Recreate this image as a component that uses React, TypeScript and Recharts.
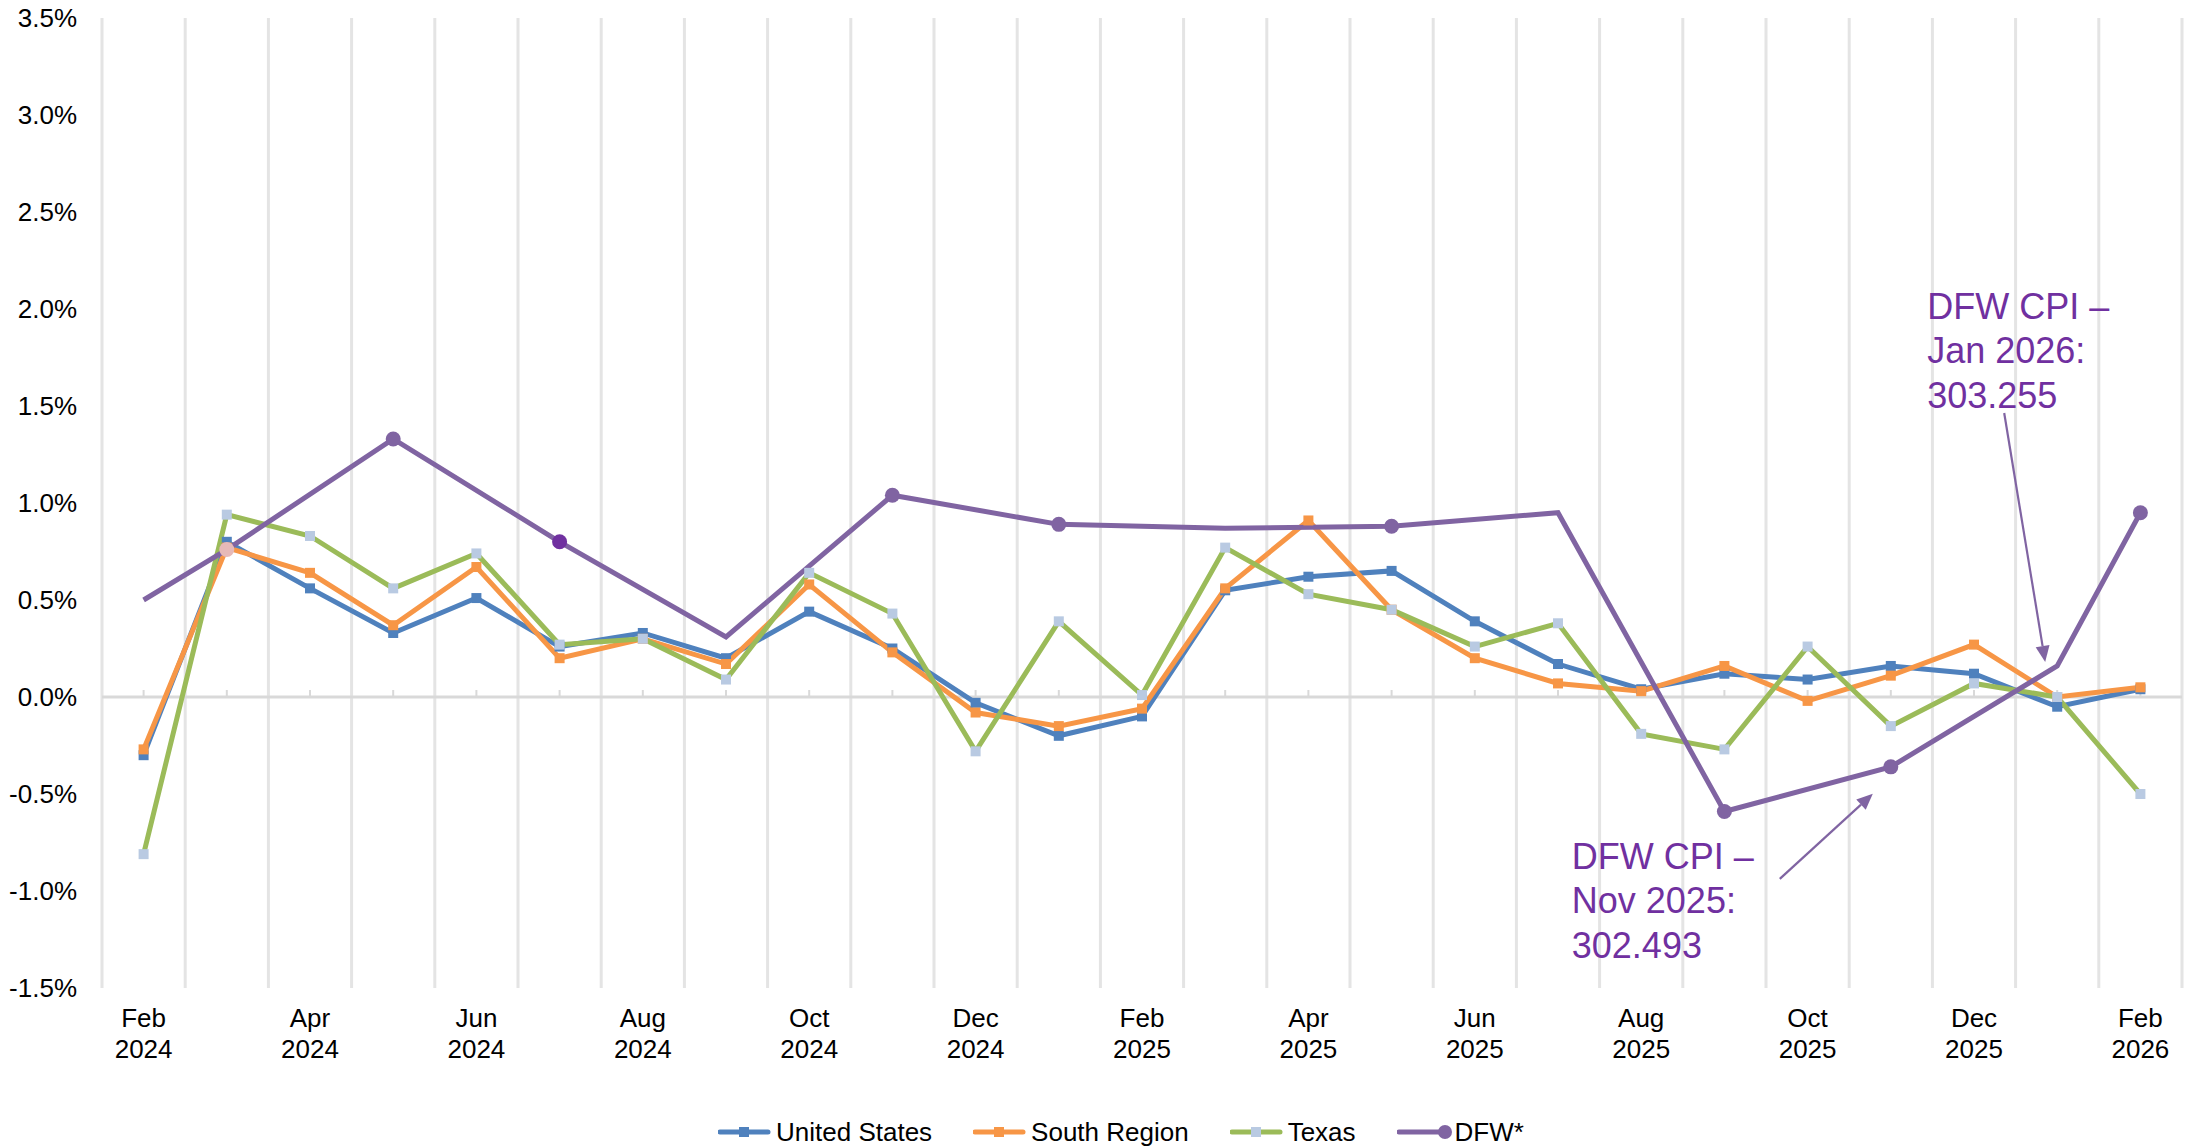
import React from 'react';
import {
  LineChart,
  Line,
  XAxis,
  YAxis,
  CartesianGrid,
  ReferenceLine,
  ReferenceDot,
} from 'recharts';

// Monthly % change, Feb 2024 - Feb 2026
const months = [
  'Feb 2024', 'Mar 2024', 'Apr 2024', 'May 2024', 'Jun 2024', 'Jul 2024', 'Aug 2024',
  'Sep 2024', 'Oct 2024', 'Nov 2024', 'Dec 2024', 'Jan 2025', 'Feb 2025', 'Mar 2025',
  'Apr 2025', 'May 2025', 'Jun 2025', 'Jul 2025', 'Aug 2025', 'Sep 2025', 'Oct 2025',
  'Nov 2025', 'Dec 2025', 'Jan 2026', 'Feb 2026',
];

const unitedStates = [
  -0.30, 0.80, 0.56, 0.33, 0.51, 0.26, 0.33, 0.20, 0.44, 0.25, -0.03, -0.20, -0.10,
  0.55, 0.62, 0.65, 0.39, 0.17, 0.04, 0.12, 0.09, 0.16, 0.12, -0.05, 0.04,
];

const southRegion = [
  -0.27, 0.77, 0.64, 0.37, 0.67, 0.20, 0.30, 0.17, 0.58, 0.23, -0.08, -0.15, -0.06,
  0.56, 0.91, 0.45, 0.20, 0.07, 0.03, 0.16, -0.02, 0.11, 0.27, 0.00, 0.05,
];

const texas = [
  -0.81, 0.94, 0.83, 0.56, 0.74, 0.27, 0.30, 0.09, 0.64, 0.43, -0.28, 0.39, 0.01,
  0.77, 0.53, 0.45, 0.26, 0.38, -0.19, -0.27, 0.26, -0.15, 0.07, 0.00, -0.50,
];

// DFW is published bimonthly, so the gaps are bridged
const dfw = [
  0.50, 0.76, null, 1.33, null, 0.80, null, 0.31, null, 1.04, null, 0.89, null,
  0.87, null, 0.88, null, 0.95, null, -0.59, null, -0.36, null, 0.16, 0.95,
];

// DFW points that carry a marker in the original
const dfwMarkedMonths = [
  'Mar 2024', 'May 2024', 'Jul 2024', 'Nov 2024', 'Jan 2025', 'May 2025',
  'Sep 2025', 'Nov 2025', 'Feb 2026',
];

const yTicks = [-1.5, -1.0, -0.5, 0, 0.5, 1.0, 1.5, 2.0, 2.5, 3.0, 3.5];

const calloutJan = { month: 'Jan 2026', lines: ['DFW CPI –', 'Jan 2026:', '303.255'] };
const calloutNov = { month: 'Nov 2025', lines: ['DFW CPI –', 'Nov 2025:', '302.493'] };

const COLORS = {
  us: '#4f81bd',
  south: '#f79646',
  texas: '#9bbb59',
  texasMarker: '#b9cae2',
  dfw: '#8064a2',
  note: '#7030a0',
  grid: '#e4e4e4',
  zero: '#d9d9d9',
};

const FONT = '"Liberation Sans", Arial, sans-serif';

const data = months.map((month, i) => ({
  month,
  us: unitedStates[i],
  south: southRegion[i],
  texas: texas[i],
  dfw: dfw[i],
}));

const squareDot = (fill: string) => (props: any) => {
  const { cx, cy, index } = props;
  if (cx == null || cy == null) return <g key={`s-${index}`} />;
  return <rect key={`s-${index}`} x={cx - 5} y={cy - 5} width={10} height={10} fill={fill} />;
};

const dfwDot = (props: any) => {
  const { cx, cy, index, payload } = props;
  if (cy == null || !dfwMarkedMonths.includes(payload.month)) return <g key={`d-${index}`} />;
  let fill = COLORS.dfw;
  if (payload.month === 'Mar 2024') fill = '#e6b9b8';
  if (payload.month === 'Jul 2024') fill = '#7030a0';
  return <circle key={`d-${index}`} cx={cx} cy={cy} r={7.5} fill={fill} />;
};

const MonthTick = ({ x, y, payload }: any) => {
  const [m, yr] = String(payload.value).split(' ');
  return (
    <g>
      <text x={x} y={y + 39} textAnchor="middle" fontSize={26} fill="#000">{m}</text>
      <text x={x} y={y + 70} textAnchor="middle" fontSize={26} fill="#000">{yr}</text>
    </g>
  );
};

// zero line with small category ticks, like the Excel horizontal axis
const ZeroAxis = (props: any) => {
  const { x1, y1, x2 } = props;
  if (x1 == null || y1 == null) return <g />;
  const step = (x2 - x1) / months.length;
  return (
    <g>
      <line x1={x1} y1={y1} x2={x2} y2={y1} stroke={COLORS.zero} strokeWidth={3} />
      {months.map((m, i) => (
        <line key={m} x1={x1 + (i + 0.5) * step} x2={x1 + (i + 0.5) * step} y1={y1} y2={y1 - 7} stroke={COLORS.zero} strokeWidth={2} />
      ))}
    </g>
  );
};

function Arrow({ x1, y1, x2, y2 }: { x1: number; y1: number; x2: number; y2: number }) {
  const len = Math.hypot(x2 - x1, y2 - y1);
  const ux = (x2 - x1) / len;
  const uy = (y2 - y1) / len;
  const hl = 16;
  const hw = 7;
  const bx = x2 - ux * hl;
  const by = y2 - uy * hl;
  const pts = `${x2},${y2} ${bx - uy * hw},${by + ux * hw} ${bx + uy * hw},${by - ux * hw}`;
  return (
    <g>
      <line x1={x1} y1={y1} x2={bx} y2={by} stroke={COLORS.dfw} strokeWidth={2.2} />
      <polygon points={pts} fill={COLORS.dfw} />
    </g>
  );
}

const calloutText = (lines: string[], x: number, y: number) =>
  lines.map((l, i) => (
    <text key={i} x={x} y={y + i * 44.5} fontSize={36} fill={COLORS.note}>{l}</text>
  ));

const JanCallout = ({ cx, cy }: any) => (
  <g>
    <Arrow x1={cx - 53} y1={cy - 253} x2={cx - 12} y2={cy - 4} />
    {calloutText(calloutJan.lines, cx - 130, cy - 347)}
  </g>
);

const NovCallout = ({ cx, cy }: any) => (
  <g>
    <Arrow x1={cx - 111} y1={cy + 112} x2={cx - 18} y2={cy + 27} />
    {calloutText(calloutNov.lines, cx - 319, cy + 102)}
  </g>
);

const legendItems = [
  { name: 'United States', color: COLORS.us, marker: COLORS.us, circle: false },
  { name: 'South Region', color: COLORS.south, marker: COLORS.south, circle: false },
  { name: 'Texas', color: COLORS.texas, marker: COLORS.texasMarker, circle: false },
  { name: 'DFW*', color: COLORS.dfw, marker: COLORS.dfw, circle: true },
];

function ChartLegend() {
  return (
    <div
      style={{
        position: 'absolute',
        top: 1117,
        left: 718,
        display: 'flex',
        alignItems: 'center',
        gap: 41,
        fontSize: 26,
        color: '#000',
      }}
    >
      {legendItems.map((it) => (
        <div key={it.name} style={{ display: 'flex', alignItems: 'center' }}>
          <svg width={56} height={20}>
            <line x1={2} y1={10} x2={50} y2={10} stroke={it.color} strokeWidth={5} strokeLinecap="round" />
            {it.circle ? (
              <circle cx={48} cy={10} r={7} fill={it.marker} />
            ) : (
              <rect x={21} y={5} width={10} height={10} fill={it.marker} />
            )}
          </svg>
          <span style={{ marginLeft: 2, lineHeight: '30px' }}>{it.name}</span>
        </div>
      ))}
    </div>
  );
}

export default function App() {
  const gridX = ({ offset }: any) =>
    Array.from({ length: months.length + 1 }, (_, i) => offset.left + (i * offset.width) / months.length);

  const janY = dfw[months.indexOf(calloutJan.month)] as number;
  const novY = dfw[months.indexOf(calloutNov.month)] as number;

  return (
    <div style={{ position: 'relative', width: 2196, height: 1147, background: '#fff', fontFamily: FONT }}>
      <style>{'body{margin:0}'}</style>
      <LineChart width={2196} height={1100} data={data} margin={{ top: 18, right: 14, bottom: 40, left: 0 }}>
        <CartesianGrid
          horizontal={false}
          stroke={COLORS.grid}
          strokeWidth={3}
          verticalCoordinatesGenerator={gridX}
        />
        <XAxis
          dataKey="month"
          scale="band"
          interval={1}
          height={72}
          axisLine={false}
          tickLine={false}
          tickSize={0}
          tickMargin={0}
          tick={<MonthTick />}
        />
        <YAxis
          domain={[-1.5, 3.5]}
          ticks={yTicks}
          width={102}
          axisLine={false}
          tickLine={false}
          tickSize={0}
          tickMargin={25}
          tickFormatter={(v: number) => `${v.toFixed(1)}%`}
          tick={{ fontSize: 26, fill: '#000' }}
        />
        <ReferenceLine y={0} shape={(p: any) => <ZeroAxis {...p} />} />
        <Line
          dataKey="us"
          name="United States"
          stroke={COLORS.us}
          strokeWidth={5}
          dot={squareDot(COLORS.us)}
          activeDot={false}
          isAnimationActive={false}
        />
        <Line
          dataKey="south"
          name="South Region"
          stroke={COLORS.south}
          strokeWidth={5}
          dot={squareDot(COLORS.south)}
          activeDot={false}
          isAnimationActive={false}
        />
        <Line
          dataKey="texas"
          name="Texas"
          stroke={COLORS.texas}
          strokeWidth={5}
          dot={squareDot(COLORS.texasMarker)}
          activeDot={false}
          isAnimationActive={false}
        />
        <Line
          dataKey="dfw"
          name="DFW*"
          stroke={COLORS.dfw}
          strokeWidth={5}
          connectNulls
          dot={dfwDot}
          activeDot={false}
          isAnimationActive={false}
        />
        <ReferenceDot x={calloutJan.month} y={janY} r={0} shape={(p: any) => <JanCallout {...p} />} />
        <ReferenceDot x={calloutNov.month} y={novY} r={0} shape={(p: any) => <NovCallout {...p} />} />
      </LineChart>
      <ChartLegend />
    </div>
  );
}
